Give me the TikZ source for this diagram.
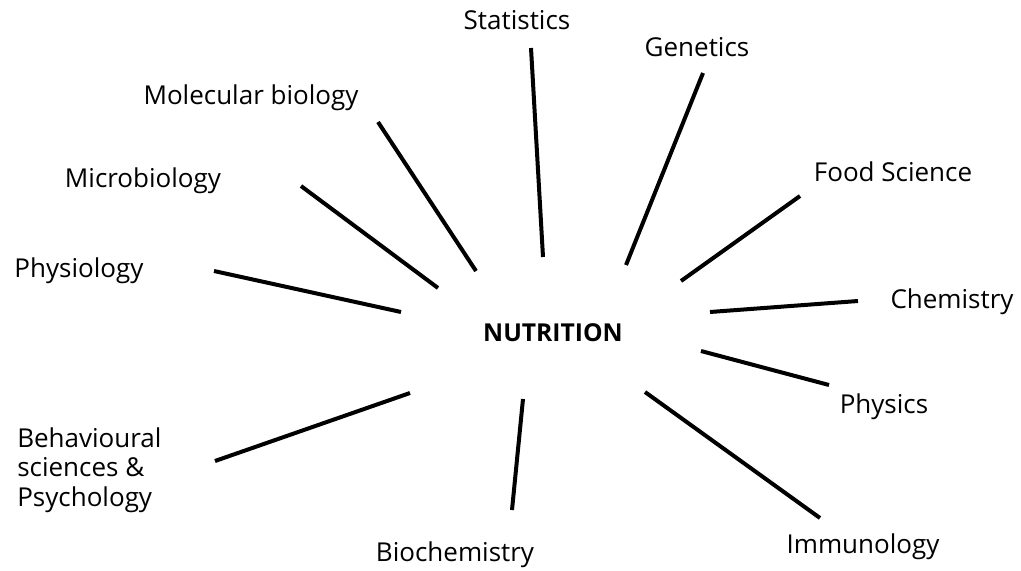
\documentclass[tikz,border=0pt]{standalone}
\usepackage{fontspec}
\setmainfont{Open Sans}
\begin{document}
\begin{tikzpicture}[x=0.75pt,y=-0.75pt,
  lbl/.style={inner sep=0pt,font=\fontsize{19.5}{23}\selectfont},
  spoke/.style={line width=3pt,black}]
\useasboundingbox (0,0) rectangle (1021,571);
\node[lbl,font=\fontsize{18.5}{22}\selectfont\bfseries] (nut) at (553,333) {NUTRITION};
\node[lbl] (stat) at (517,20) {Statistics};
\node[lbl] (gen) at (697,47) {Genetics};
\node[lbl] (food) at (893,172) {Food Science};
\node[lbl] (chem) at (952,302) {Chemistry};
\node[lbl] (phys) at (884,407) {Physics};
\node[lbl] (imm) at (863,547) {Immunology};
\node[lbl] (bioc) at (455,555) {Biochemistry};
\node[lbl,align=left,anchor=west,font=\fontsize{19.5}{22}\selectfont] (beh) at (17,470) {Behavioural\\sciences \&\\Psychology};
\node[lbl] (physio) at (79,271) {Physiology};
\node[lbl] (micro) at (143,181) {Microbiology};
\node[lbl] (mol) at (251,98) {Molecular biology};
% spoke end points
\coordinate (s1a) at (531,48);  \coordinate (s1b) at (543,257);
\coordinate (s2a) at (703,73);  \coordinate (s2b) at (626,265);
\coordinate (s3a) at (800,196); \coordinate (s3b) at (681,281);
\coordinate (s4a) at (858,301); \coordinate (s4b) at (710,312);
\coordinate (s5a) at (829,385); \coordinate (s5b) at (701,351);
\coordinate (s6a) at (820,518); \coordinate (s6b) at (645,392);
\coordinate (s7a) at (512,510); \coordinate (s7b) at (523,399);
\coordinate (s8a) at (215,461); \coordinate (s8b) at (410,393);
\coordinate (s9a) at (214,271); \coordinate (s9b) at (401,312);
\coordinate (s10a) at (301,186); \coordinate (s10b) at (438,288);
\coordinate (s11a) at (378,122); \coordinate (s11b) at (476,271);
\foreach \i in {1,...,11} \draw[spoke] (s\i a) -- (s\i b);
\end{tikzpicture}
\end{document}
